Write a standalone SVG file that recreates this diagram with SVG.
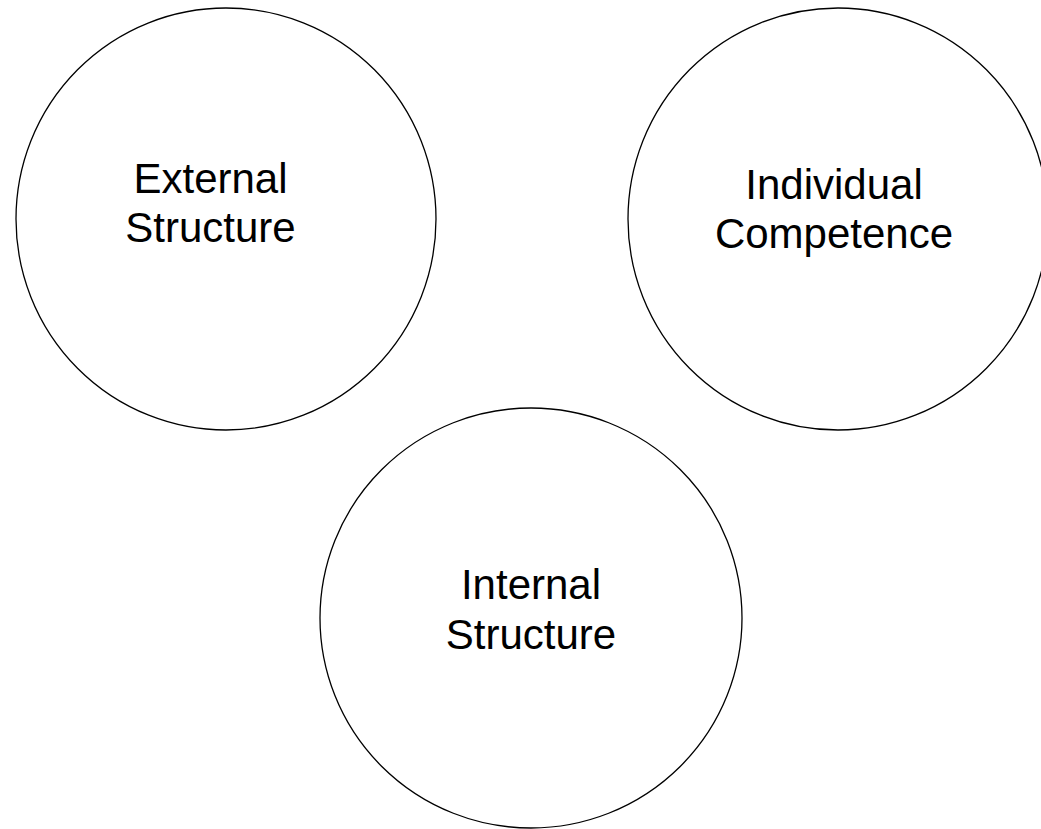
<svg xmlns="http://www.w3.org/2000/svg" width="1041" height="829" viewBox="0 0 1041 829">
<style>
.node{fill:#fff;stroke:#000;stroke-width:1.3}
.lbl{font-family:"Liberation Sans",Arial,sans-serif;font-size:42px;fill:#000;text-anchor:middle}
</style>
<rect width="1041" height="829" fill="#fff"/>
<g id="connectors"></g>
<g id="external-structure">
<ellipse class="node" cx="226" cy="219" rx="210" ry="211"/>
<text class="lbl" x="210.5" y="193">External</text>
<text class="lbl" x="210.5" y="242">Structure</text>
</g>
<g id="individual-competence">
<ellipse class="node" cx="838" cy="219" rx="210" ry="211"/>
<text class="lbl" x="834" y="199">Individual</text>
<text class="lbl" x="834" y="248">Competence</text>
</g>
<g id="internal-structure">
<ellipse class="node" cx="531" cy="618" rx="211" ry="210"/>
<text class="lbl" x="531" y="599">Internal</text>
<text class="lbl" x="531" y="649">Structure</text>
</g>
</svg>
